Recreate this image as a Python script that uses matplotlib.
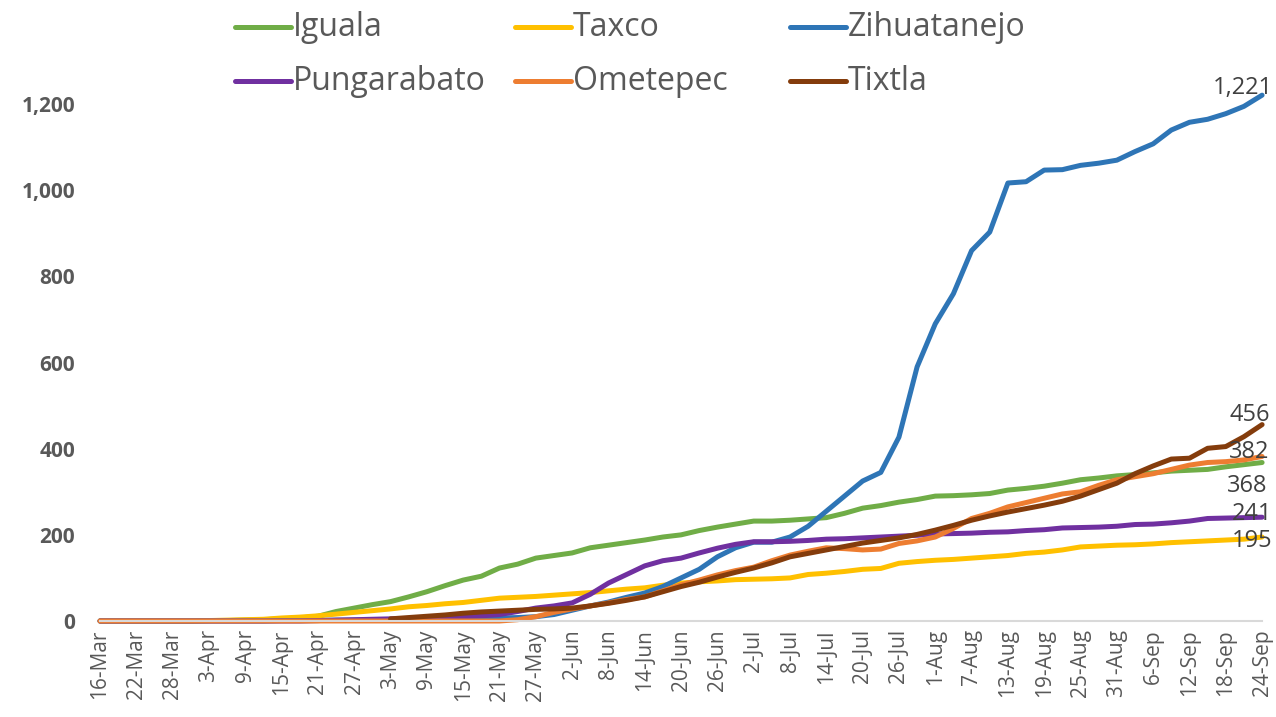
#!/usr/bin/env python3
"""Cumulative cases by municipality (Guerrero), Mar-Sep."""
import numpy as np
import pandas as pd
import matplotlib
matplotlib.use("Agg")
import matplotlib.pyplot as plt
import matplotlib.dates as mdates
from matplotlib.lines import Line2D

nan = np.nan

# one reading every 3 days, 16-Mar .. 24-Sep
dates = pd.date_range("2020-03-16", "2020-09-24", freq="3D")

iguala = [0, 0, 0, 0, 0, 0, 1, 1, 2, 3,
          5, 7, 11, 22, 30, 38, 45, 56, 68, 82,
          95, 104, 123, 132, 146, 152, 158, 170, 176, 182,
          188, 195, 200, 210, 218, 225, 232, 232, 234, 237,
          240, 250, 262, 268, 276, 282, 290, 291, 293, 296,
          304, 308, 313, 320, 328, 332, 337, 340, 344, 348,
          350, 352, 358, 363, 368]
taxco = [0, 0, 0, 0, 0, 0, 1, 2, 3, 4,
         7, 9, 12, 16, 20, 24, 28, 33, 36, 40,
         43, 48, 53, 55, 57, 60, 63, 66, 70, 74,
         77, 83, 88, 91, 93, 96, 97, 98, 100, 108,
         111, 115, 120, 122, 134, 138, 141, 143, 146, 149,
         152, 157, 160, 165, 172, 174, 176, 177, 179, 182,
         184, 186, 188, 190, 195]
zihuatanejo = [0, 0, 0, 0, 0, 0, 0, 0, 0, 0,
               1, 1, 1, 2, 2, 2, 3, 3, 4, 4,
               5, 6, 7, 8, 10, 15, 25, 35, 44, 55,
               65, 80, 100, 120, 149, 170, 183, 183, 195, 220,
               255, 290, 325, 345, 427, 590, 690, 760, 860, 903,
               1017, 1020, 1047, 1048, 1058, 1063, 1070, 1090, 1108, 1140,
               1158, 1165, 1178, 1195, 1221]
pungarabato = [0, 0, 0, 0, 0, 0, 0, 0, 0, 0,
               0, 0, 1, 2, 3, 4, 5, 6, 7, 8,
               10, 12, 15, 22, 30, 35, 42, 62, 88, 108,
               128, 140, 146, 158, 169, 178, 184, 184, 185, 187,
               190, 191, 193, 195, 197, 199, 202, 203, 204, 206,
               207, 210, 212, 216, 217, 218, 220, 224, 225, 228,
               232, 238, 239, 240, 241]
ometepec = [0, 0, 0, 0, 0, 0, 0, 0, 0, 0,
            0, 0, 0, 0, 0, 0, 0, 0, 0, 0,
            0, 0, 0, 3, 10, 20, 28, 35, 42, 50,
            56, 70, 84, 95, 107, 117, 125, 140, 153, 162,
            170, 168, 165, 167, 180, 186, 195, 215, 238, 250,
            265, 275, 285, 295, 300, 315, 328, 335, 342, 352,
            362, 368, 370, 374, 382]
tixtla = [nan, nan, nan, nan, nan, nan, nan, nan, nan, nan,
          nan, nan, nan, nan, nan, nan, 5, 8, 11, 14,
          18, 21, 23, 25, 27, 28, 30, 35, 41, 48,
          56, 68, 80, 90, 102, 113, 123, 135, 149, 157,
          165, 173, 181, 187, 193, 201, 211, 222, 234, 244,
          253, 261, 269, 278, 290, 305, 320, 342, 360, 376,
          378, 401, 405, 428, 456]

names = ["Iguala", "Taxco", "Zihuatanejo", "Pungarabato", "Ometepec", "Tixtla"]
series = [iguala, taxco, zihuatanejo, pungarabato, ometepec, tixtla]
colors = ["#70AD47", "#FFC000", "#2E75B6", "#7030A0", "#ED7D31", "#843C0C"]
# end-of-line value labels, offsets in points
label_offsets = [(-11, -17), (-7, -3), (-14, 5), (-7, 2), (-9, 3), (-9, 7)]

plt.rcParams["font.family"] = ["Open Sans", "DejaVu Sans"]

W, H = 1276, 717
fig = plt.figure(figsize=(W / 100, H / 100), dpi=100)
ax = fig.add_axes([0.0784, 0.1339, 0.9107, 0.7448])

for name, vals, col in zip(names, series, colors):
    ax.plot(dates, vals, color=col, lw=3.6, label=name,
            solid_joinstyle="round", solid_capstyle="round", clip_on=False)

for vals, off in zip(series, label_offsets):
    last = vals[-1]
    ax.annotate(f"{last:,.0f}", (dates[-1], last), xytext=off, textcoords="offset points",
                ha="center", va="center", fontsize=17, color="#404040")

ax.set_xlim(dates[0], dates[-1])
ax.set_ylim(0, 1240)
ax.set_yticks(range(0, 1201, 200))
ax.yaxis.set_major_formatter(matplotlib.ticker.FuncFormatter(lambda v, p: f"{v:,.0f}"))
for lbl in ax.get_yticklabels():
    lbl.set_fontweight("bold")

ax.set_xticks(dates[::2])
ax.xaxis.set_major_formatter(mdates.DateFormatter("%-d-%b"))
ax.tick_params(axis="x", rotation=90, labelsize=15, colors="#595959", length=0, pad=6)
ax.tick_params(axis="y", labelsize=15, colors="#595959", length=0, pad=18)

for s in ["top", "right", "left"]:
    ax.spines[s].set_visible(False)
ax.spines["bottom"].set_color("#D9D9D9")
ax.spines["bottom"].set_linewidth(1.5)

# legend drawn by hand, Excel style: 3 columns x 2 rows
col_x = [235, 515, 790]
row_y = [27, 81]
for i, (name, col) in enumerate(zip(names, colors)):
    x0 = col_x[i % 3]
    y0 = row_y[i // 3]
    fig.add_artist(Line2D([x0 / W, (x0 + 56) / W], [1 - y0 / H, 1 - y0 / H],
                          color=col, lw=3.6, solid_capstyle="round"))
    fig.text((x0 + 58) / W, 1 - y0 / H, name, fontsize=23, color="#595959",
             ha="left", va="center")

fig.savefig("out.png", dpi=100)
